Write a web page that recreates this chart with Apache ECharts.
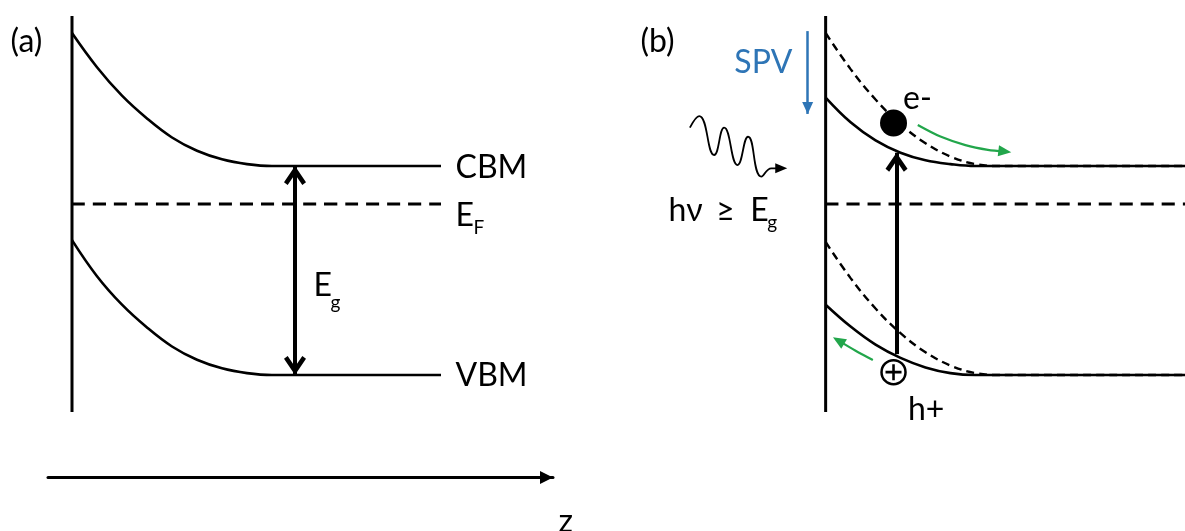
<!DOCTYPE html>
<html>
<head>
<meta charset="utf-8">
<script src="https://cdn.jsdelivr.net/npm/echarts@6/dist/echarts.min.js"></script>
<style>html,body{margin:0;padding:0;background:#fff}#c{width:1185px;height:531px}</style>
</head>
<body>
<div id="c"></div>
<script>
// ---------- data (depth z in arbitrary units, energy E in eV with E_F = 0) ----------
// panel (a): equilibrium band bending
const depthA = [0, 0.5, 1, 1.5, 2, 2.5, 3, 3.5, 4, 7.38];
const cbmA = [0.9, 0.72, 0.57, 0.45, 0.35, 0.28, 0.235, 0.21, 0.2, 0.2];
const vbmA = [-0.19, -0.38, -0.53, -0.65, -0.75, -0.82, -0.865, -0.89, -0.9, -0.9];
const fermiA = [[0, 0], [7.38, 0]];
const surfaceA = [[0, 0.99], [0, -1.095]];
const gapArrowA = [[4.46, 0.2], [4.46, -0.9]];
const labelsA = [['(a)', -1.24, 0.853], ['CBM', 7.66, 0.19], ['E', 7.66, -0.06], ['VBM', 7.66, -0.905], ['E', 4.82, -0.43], ['z', 9.72, -1.674]];
const subLabelsA = [['F', 8.02, -0.126], ['g', 5.16, -0.52]];

// panel (b): under illumination (dashed = dark, solid = illuminated)
const depthB = [0, 0.5, 1, 1.5, 2, 2.5, 3, 3.5, 7.2];
const cbDarkB = [0.9, 0.71, 0.55, 0.42, 0.32, 0.25, 0.21, 0.2, 0.2];
const cbLightB = [0.56, 0.43, 0.335, 0.27, 0.23, 0.21, 0.2, 0.2, 0.2];
const vbDarkB = [-0.2, -0.39, -0.55, -0.68, -0.78, -0.85, -0.89, -0.9, -0.9];
const vbLightB = [-0.53, -0.645, -0.74, -0.81, -0.86, -0.89, -0.9, -0.9, -0.9];
const fermiB = [[0, 0], [7.2, 0]];
const surfaceB = [[0, 0.99], [0, -1.095]];
const excitationB = [[1.42, -0.79], [1.42, 0.27]];
const spvArrowB = [[-0.36, 0.91], [-0.36, 0.474]];
const electronDriftZ = [1.846, 2.3, 2.8, 3.25, 3.59];
const electronDriftE = [0.416, 0.355, 0.31, 0.285, 0.276];
const holeDriftZ = [0.946, 0.6, 0.258];
const holeDriftE = [-0.821, -0.772, -0.719];
const electronB = [[1.36, 0.426]];
const holeB = [[1.36, -0.885]];
const photonZ = [-2.72, -2.534, -2.234, -2.034, -1.766, -1.554, -1.286, -1.086, -0.89];
const photonE = [0.402, 0.463, 0.258, 0.402, 0.205, 0.354, 0.144, 0.188, 0.188];
const labelsB = [['(b)', -3.72, 0.853], ['h\u03bd', -3.16, -0.037], ['\u2265', -2.2, -0.037], ['E', -1.52, -0.037], ['e-', 1.54, 0.553], ['h+', 1.64, -1.084]];
const spvLabelB = [['SPV', -1.84, 0.742]];
const subLabelsB = [['g', -1.18, -0.1]];

// ---------- styling ----------
const FONT = 'Lato';
const BLACK = '#000000';
const BLUE = '#2E75B6';
const GREEN = '#22A64B';
const CHEVRON = 'path://M0,9 L6,0 L12,9 L10,10.6 L6,4.6 L2,10.6 Z';
const PLUS = 'path://M4.2,0 L5.8,0 L5.8,4.2 L10,4.2 L10,5.8 L5.8,5.8 L5.8,10 L4.2,10 L4.2,5.8 L0,5.8 L0,4.2 L4.2,4.2 Z';

const zip = (xs, ys) => xs.map((x, i) => [x, ys[i]]);

function bandLine(g, data, dashed, width) {
  return {
    type: 'line', xAxisIndex: g, yAxisIndex: g, data: data, showSymbol: false, symbol: 'none',
    smooth: 0.4, silent: true,
    lineStyle: { color: BLACK, width: width || 2.6, type: dashed ? dashed : 'solid' }
  };
}
function arrowSeries(g, pairs, color, width) {
  return {
    type: 'line', xAxisIndex: g, yAxisIndex: g, data: [], silent: true,
    markLine: {
      silent: true, animation: false, label: { show: false }, emphasis: { disabled: true },
      lineStyle: { color: color, width: width, type: 'solid' },
      data: pairs
    }
  };
}
function end(p, symbol, size) {
  return { coord: p, symbol: symbol, symbolSize: size, symbolOffset: [0, '50%'] };
}
function plain(p) { return { coord: p, symbol: 'none' }; }
// curved arrow drawn as a smooth line with a rotated triangle at its last point
function curvedArrow(g, zs, es, color, width, headRotate, headSize, smooth) {
  return {
    type: 'line', xAxisIndex: g, yAxisIndex: g, silent: true, smooth: smooth, showSymbol: true, symbol: 'none',
    lineStyle: { color: color, width: width }, itemStyle: { color: color },
    data: zs.map((z, i) => i === zs.length - 1
      ? { value: [z, es[i]], symbol: 'triangle', symbolSize: headSize, symbolRotate: headRotate }
      : { value: [z, es[i]] })
  };
}
function textSeries(g, items, size, color) {
  return {
    type: 'scatter', xAxisIndex: g, yAxisIndex: g, clip: false, silent: true,
    symbol: 'circle', symbolSize: 1, itemStyle: { color: 'transparent', opacity: 1 },
    data: items.map(l => ({ value: [l[1], l[2]], name: l[0] })),
    label: { show: true, position: 'right', distance: 0, formatter: p => p.name,
      fontFamily: FONT, fontSize: size, color: color, opacity: 1 }
  };
}

const chart = echarts.init(document.getElementById('c'), null, { renderer: 'canvas' });
chart.setOption({
  animation: false,
  backgroundColor: '#ffffff',
  grid: [
    { left: 48, top: 14, width: 505, height: 463.6 },
    { left: 626, top: 14, width: 560, height: 463.6 }
  ],
  xAxis: [
    { type: 'value', gridIndex: 0, min: -0.48, max: 9.62,
      axisLine: { show: true, onZero: false, symbol: ['none', 'triangle'], symbolSize: [13, 13], symbolOffset: [0, -6.5],
        lineStyle: { color: BLACK, width: 3 } },
      axisTick: { show: false }, axisLabel: { show: false }, splitLine: { show: false } },
    { type: 'value', gridIndex: 1, min: -4, max: 7.2, show: false }
  ],
  yAxis: [
    { type: 'value', gridIndex: 0, min: -1.44, max: 1.0, show: false },
    { type: 'value', gridIndex: 1, min: -1.44, max: 1.0, show: false }
  ],
  series: [
    // ---- panel (a)
    bandLine(0, surfaceA, null, 3),
    bandLine(0, zip(depthA, cbmA)),
    bandLine(0, zip(depthA, vbmA)),
    bandLine(0, fermiA, [13, 8], 3),
    arrowSeries(0, [[end(gapArrowA[0], CHEVRON, [22, 19]), end(gapArrowA[1], CHEVRON, [22, 19])]], BLACK, 4),
    textSeries(0, labelsA, 32, BLACK),
    textSeries(0, subLabelsA, 19, BLACK),
    // ---- panel (b)
    bandLine(1, surfaceB, null, 3),
    bandLine(1, zip(depthB, cbDarkB), [8, 5], 2.4),
    bandLine(1, zip(depthB, vbDarkB), [8, 5], 2.4),
    bandLine(1, zip(depthB, cbLightB)),
    bandLine(1, zip(depthB, vbLightB)),
    bandLine(1, fermiB, [13, 8], 3),
    arrowSeries(1, [[plain(excitationB[0]), end(excitationB[1], CHEVRON, [22, 19])]], BLACK, 4),
    arrowSeries(1, [[plain(spvArrowB[0]), end(spvArrowB[1], 'triangle', [11, 12])]], BLUE, 2.5),
    curvedArrow(1, electronDriftZ, electronDriftE, GREEN, 2.2, -97, [11, 13], 0.3),
    curvedArrow(1, holeDriftZ, holeDriftE, GREEN, 2.2, 59, [11, 13], 0.3),
    curvedArrow(1, photonZ, photonE, BLACK, 1.8, -90, [10, 12], true),
    { type: 'scatter', xAxisIndex: 1, yAxisIndex: 1, silent: true, data: electronB,
      symbol: 'circle', symbolSize: 27, itemStyle: { color: BLACK, opacity: 1 } },
    { type: 'scatter', xAxisIndex: 1, yAxisIndex: 1, silent: true, data: holeB,
      symbol: 'circle', symbolSize: 24, itemStyle: { color: '#ffffff', borderColor: BLACK, borderWidth: 2.5, opacity: 1 } },
    { type: 'scatter', xAxisIndex: 1, yAxisIndex: 1, silent: true, data: holeB,
      symbol: PLUS, symbolSize: 16, itemStyle: { color: BLACK, opacity: 1 } },
    textSeries(1, labelsB, 32, BLACK),
    textSeries(1, spvLabelB, 32, BLUE),
    textSeries(1, subLabelsB, 19, BLACK)
  ]
});
</script>
</body>
</html>
